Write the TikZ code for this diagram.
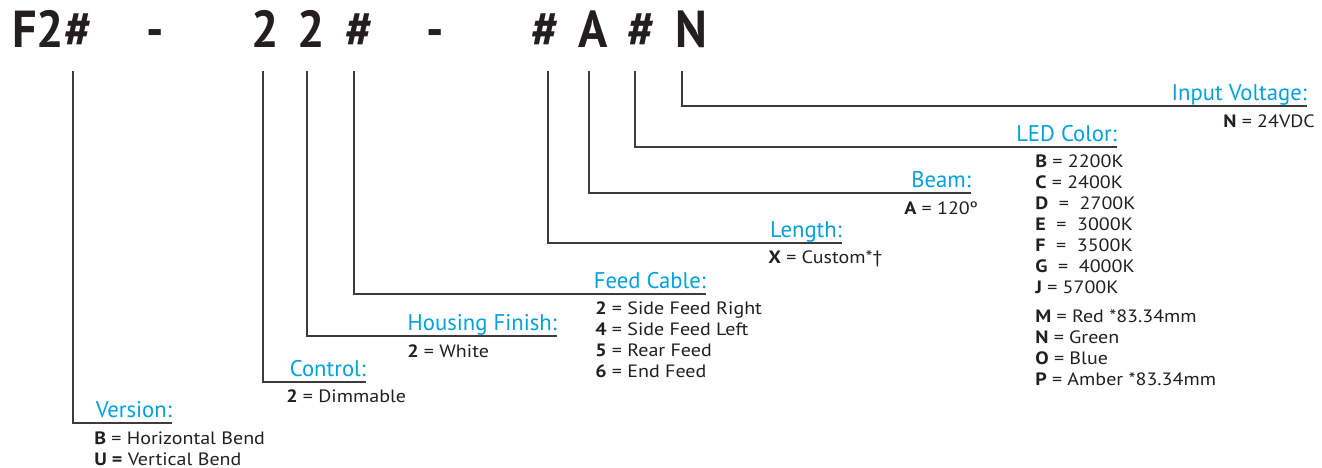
\documentclass[tikz,border=0pt]{standalone}
\usepackage{fontspec}
\setmainfont{PT Sans}
\newfontfamily\codefont[FakeStretch=0.93]{PT Sans}
\newfontfamily\bodyfont[FakeStretch=1.12]{PT Sans}
\usepackage{tikz}

\definecolor{labblue}{RGB}{0,161,222}
\definecolor{ink}{RGB}{35,31,32}
\definecolor{leadgray}{RGB}{60,60,60}

\newcommand{\optlist}[1]{\begin{tabular}[t]{@{}l@{}}#1\end{tabular}}

\tikzset{
  code/.style={anchor=base, inner sep=0pt, text=ink, font=\codefont\bfseries\fontsize{39}{39}\selectfont},
  lab/.style={anchor=base east, inner sep=0pt, text=labblue, font=\fontsize{17}{17}\selectfont},
  item/.style={anchor=base west, inner sep=0pt, text=ink, font=\bodyfont\fontsize{13.4}{15.75}\selectfont},
  lead/.style={draw=leadgray, line width=1.1pt}
}

\begin{document}
\begin{tikzpicture}[x=0.75pt,y=0.75pt,yscale=-1,xscale=1]
\useasboundingbox (0,0) rectangle (1322,468);

% Code string
\node[code, anchor=base west] (cver) at (12,47) {F2\#};
\node[code] (dash1) at (155,47) {-};
\node[code] (cctl) at (265.5,47) {2};
\node[code] (chsg) at (311,47) {2};
\node[code] (cfeed) at (359,47) {\#};
\node[code] (dash2) at (435,47) {-};
\node[code] (clen) at (545.5,47) {\#};
\node[code] (cbeam) at (593,47) {A};
\node[code] (cled) at (641.5,47) {\#};
\node[code] (cvolt) at (691,47) {N};

% Tick points under the code
\coordinate (tver) at (73,71);
\coordinate (tctl) at (263,71);
\coordinate (thsg) at (307,71);
\coordinate (tfeed) at (354,71);
\coordinate (tlen) at (548,71);
\coordinate (tbeam) at (589,71);
\coordinate (tled) at (635,71);
\coordinate (tvolt) at (682,71);

% Labels
\node[lab] (lver) at (172,417) {Version:};
\node[lab] (lctl) at (366,376) {Control:};
\node[lab] (lhsg) at (557,330) {Housing Finish:};
\node[lab] (lfeed) at (706,288) {Feed Cable:};
\node[lab] (llen) at (842,237) {Length:};
\node[lab] (lbeam) at (971,187) {Beam:};
\node[lab] (lled) at (1117,141) {LED Color:};
\node[lab] (lvolt) at (1307,100) {Input Voltage:};

% Leaders
\draw[lead] (tver) |- ([yshift=4.5pt]lver.base east);
\draw[lead] (tctl) |- ([yshift=4.5pt]lctl.base east);
\draw[lead] (thsg) |- ([yshift=4.5pt]lhsg.base east);
\draw[lead] (tfeed) |- ([yshift=4.5pt]lfeed.base east);
\draw[lead] (tlen) |- ([yshift=4.5pt]llen.base east);
\draw[lead] (tbeam) |- ([yshift=4.5pt]lbeam.base east);
\draw[lead] (tled) |- ([yshift=4.5pt]lled.base east);
\draw[lead] (tvolt) |- ([yshift=4.5pt]lvolt.base east);

% Options
\node[item] (over) at (94,444) {\optlist{\textbf{B} = Horizontal Bend\\\textbf{U =} Vertical Bend}};
\node[item] (octl) at (286,402) {\textbf{2} = Dimmable};
\node[item] (ohsg) at (407,357) {\textbf{2} = White};
\node[item] (ofeed) at (595,314) {\optlist{\textbf{2} = Side Feed Right\\\textbf{4} = Side Feed Left\\\textbf{5} = Rear Feed\\\textbf{6} = End Feed}};
\node[item] (olen) at (768,263) {\textbf{X} = Custom*†};
\node[item] (obeam) at (904,214) {\textbf{A} = 120º};
\node[item] (oled) at (1035,167) {\optlist{\textbf{B} = 2200K\\\textbf{C} = 2400K\\\textbf{D} \ = \ 2700K\\\textbf{E} \ = \ 3000K\\\textbf{F} \ = \ 3500K\\\textbf{G} \ = \ 4000K\\\textbf{J} = 5700K\\[6pt]\textbf{M} = Red *83.34mm\\\textbf{N} = Green\\\textbf{O} = Blue\\\textbf{P} = Amber *83.34mm}};
\node[item] (ovolt) at (1223,127) {\textbf{N} = 24VDC};

\end{tikzpicture}
\end{document}
